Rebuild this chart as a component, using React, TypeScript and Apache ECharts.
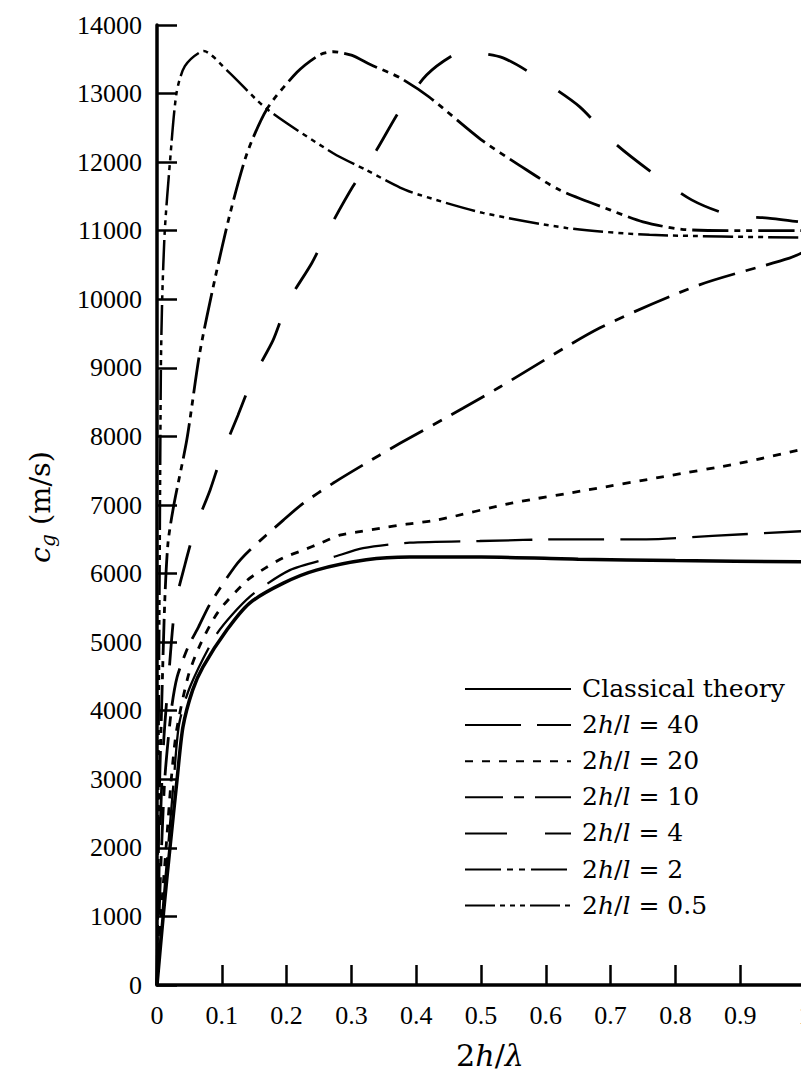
import React, { useEffect, useRef } from "react";
import * as echarts from "echarts";

const FONT = "Times New Roman";
const FONT_G = "DejaVu Serif";

const xTicks = [0, 0.1, 0.2, 0.3, 0.4, 0.5, 0.6, 0.7, 0.8, 0.9, 1];
const yTicks = [0, 1000, 2000, 3000, 4000, 5000, 6000, 7000, 8000, 9000, 10000, 11000, 12000, 13000, 14000];

const seriesNames = [
  "Classical theory",
  "2h/l = 40",
  "2h/l = 20",
  "2h/l = 10",
  "2h/l = 4",
  "2h/l = 2",
  "2h/l = 0.5",
];

const classicalX = [0, 0.01, 0.02, 0.031, 0.04, 0.055, 0.071, 0.108, 0.143, 0.195, 0.246, 0.323, 0.39, 0.5, 0.65, 0.8, 1.0];
const classicalY = [0, 1050, 2000, 3000, 3760, 4300, 4640, 5180, 5570, 5860, 6050, 6200, 6240, 6240, 6210, 6190, 6170];

const h40X = [0, 0.008, 0.017, 0.026, 0.034, 0.051, 0.093, 0.143, 0.205, 0.272, 0.318, 0.39, 0.498, 0.632, 0.755, 0.857, 1.0];
const h40Y = [0, 1000, 2000, 3000, 3800, 4350, 5130, 5660, 6050, 6240, 6370, 6450, 6475, 6500, 6500, 6550, 6620];

const h20X = [0, 0.006, 0.014, 0.022, 0.03, 0.048, 0.066, 0.095, 0.139, 0.167, 0.195, 0.225, 0.254, 0.282, 0.313, 0.344, 0.385, 0.432, 0.549, 0.665, 0.78, 0.899, 1.0];
const h20Y = [0, 1000, 2000, 3000, 3700, 4500, 4950, 5450, 5900, 6080, 6230, 6340, 6450, 6560, 6610, 6660, 6720, 6780, 7030, 7220, 7410, 7610, 7820];

const h10X = [0, 0.005, 0.012, 0.022, 0.031, 0.048, 0.064, 0.082, 0.12, 0.143, 0.195, 0.225, 0.272, 0.344, 0.375, 0.472, 0.529, 0.683, 0.837, 0.976, 1.0];
const h10Y = [0, 1500, 3000, 4000, 4490, 4930, 5220, 5560, 6100, 6340, 6780, 7020, 7320, 7730, 7900, 8410, 8720, 9580, 10210, 10600, 10700];

const h4X = [0, 0.004, 0.01, 0.018, 0.028, 0.043, 0.059, 0.082, 0.1, 0.125, 0.148, 0.179, 0.202, 0.239, 0.267, 0.302, 0.339, 0.375, 0.416, 0.457, 0.478, 0.534, 0.593, 0.652, 0.706, 0.765, 0.825, 0.884, 0.943, 1.0];
const h4Y = [0, 2000, 3500, 4500, 5540, 6125, 6665, 7220, 7730, 8310, 8850, 9400, 9960, 10530, 11055, 11640, 12180, 12760, 13270, 13560, 13600, 13520, 13200, 12810, 12280, 11840, 11450, 11230, 11185, 11120];

const h2X = [0, 0.003, 0.007, 0.012, 0.017, 0.026, 0.046, 0.066, 0.089, 0.113, 0.139, 0.17, 0.216, 0.25, 0.272, 0.3, 0.33, 0.375, 0.42, 0.5, 0.56, 0.62, 0.7, 0.75, 0.81, 0.9, 1.0];
const h2Y = [0, 2500, 4000, 5600, 6450, 7000, 7950, 9220, 10280, 11260, 12130, 12780, 13310, 13560, 13610, 13560, 13420, 13230, 12950, 12330, 11950, 11600, 11300, 11130, 11020, 11000, 11000];

const h05X = [0, 0.002, 0.004, 0.006, 0.008, 0.012, 0.02, 0.03, 0.043, 0.072, 0.11, 0.169, 0.272, 0.323, 0.375, 0.406, 0.503, 0.632, 0.76, 1.0];
const h05Y = [0, 3000, 6000, 9000, 10000, 11000, 12000, 13000, 13400, 13620, 13320, 12780, 12130, 11885, 11630, 11520, 11260, 11040, 10940, 10900];

const seriesXs = [classicalX, h40X, h20X, h10X, h4X, h2X, h05X];
const seriesYs = [classicalY, h40Y, h20Y, h10Y, h4Y, h2Y, h05Y];

const dashes: (string | number[])[] = [
  "solid",
  [56, 16],
  [8, 9],
  [38, 11, 10, 11],
  [42, 38],
  [36, 6, 6, 6, 6, 6],
  [30, 5, 5, 5, 5, 5, 5, 5],
];
const widths = [3.5, 2.3, 2.8, 2.8, 2.8, 2.8, 2.5];

type Piece = { t: string; it?: boolean; r?: number; dy?: number };

let measureCtx: CanvasRenderingContext2D | null = null;
function measure(text: string, size: number, italic: boolean): number {
  if (!measureCtx) measureCtx = document.createElement("canvas").getContext("2d");
  if (!measureCtx) return text.length * size * 0.6;
  measureCtx.font = `${italic ? "italic " : ""}${size}px ${FONT_G}`;
  return measureCtx.measureText(text).width;
}

function piecesWidth(pieces: Piece[], size: number): number {
  return pieces.reduce((a, p) => a + measure(p.t, size * (p.r ?? 1), !!p.it), 0);
}

function fitSize(pieces: Piece[], targetWidth: number, maxSize: number): number {
  const w = piecesWidth(pieces, 20);
  if (!(w > 0)) return maxSize;
  return Math.min(maxSize, (20 * targetWidth) / w);
}

function mixedText(pieces: Piece[], size: number, x: number, y: number, align: "left" | "center", rotation: number) {
  const ws = pieces.map((p) => measure(p.t, size * (p.r ?? 1), !!p.it));
  const total = ws.reduce((a, b) => a + b, 0);
  let cx = align === "center" ? -total / 2 : 0;
  const children = pieces.map((p, k) => {
    const style: any = {
      text: p.t,
      fontFamily: FONT_G,
      fontSize: size * (p.r ?? 1),
      fill: "#000",
      align: "left",
      verticalAlign: "middle",
    };
    if (p.it) style.fontStyle = "italic";
    const el = { type: "text", x: cx, y: (p.dy ?? 0) * size, style };
    cx += ws[k];
    return el;
  });
  return { type: "group", x, y, rotation, children };
}

function legendPieces(name: string): Piece[] {
  if (name.startsWith("2h/l")) {
    const v = name.split("=")[1].trim();
    return [{ t: "2" }, { t: "h", it: true }, { t: "/" }, { t: "l", it: true }, { t: " = " + v }];
  }
  return [{ t: name }];
}

export default function App() {
  const ref = useRef<HTMLDivElement>(null);
  useEffect(() => {
    if (!ref.current) return;
    const chart = echarts.init(ref.current, undefined, { renderer: "svg" });
    const series = seriesNames.map((name, i) => ({
      name,
      type: "line",
      data: seriesXs[i].map((x, j) => [x, seriesYs[i][j]]),
      symbol: "none",
      showSymbol: false,
      smooth: 0.25,
      lineStyle: { color: "#000", width: widths[i], type: dashes[i] },
      itemStyle: { color: "#000" },
      z: 2 + i,
    }));

    const firstRow = 688;
    const rowH = 36.2;
    const legendSize = fitSize(legendPieces(seriesNames[0]), 203, 30);
    const legendTexts = seriesNames.map((name, i) =>
      mixedText(legendPieces(name), legendSize, 582, firstRow + i * rowH, "left", 0)
    );
    const xPieces: Piece[] = [{ t: "2" }, { t: "h", it: true }, { t: "/" }, { t: "λ", it: true }];
    const xName = mixedText(xPieces, fitSize(xPieces, 68, 36), 490, 1055, "center", 0);
    const yPieces: Piece[] = [
      { t: "c", it: true },
      { t: "g", it: true, r: 0.7, dy: 0.27 },
      { t: " (m/s)" },
    ];
    const yName = mixedText(yPieces, fitSize(yPieces, 112, 31), 40, 507, "center", Math.PI / 2);

    chart.setOption({
      animation: false,
      backgroundColor: "#fff",
      grid: { left: 157, top: 25, width: 648, height: 960, containLabel: false, outerBoundsMode: "none" },
      legend: {
        orient: "vertical",
        left: 459,
        top: firstRow - 19,
        itemWidth: 106,
        itemHeight: 30,
        itemGap: 9.1,
        selectedMode: false,
        data: seriesNames,
        itemStyle: { opacity: 0 },
        formatter: () => "",
        textStyle: { fontFamily: FONT, fontSize: 1, color: "#000" },
      },
      graphic: [...legendTexts, xName, yName],
      xAxis: {
        type: "value",
        min: xTicks[0],
        max: xTicks[xTicks.length - 1],
        interval: 0.1,
        axisLine: { show: true, lineStyle: { color: "#000", width: 3.5 } },
        axisTick: { show: true, inside: true, length: 20, lineStyle: { color: "#000", width: 2.5 } },
        axisLabel: {
          fontFamily: FONT,
          fontSize: 26,
          color: "#000",
          margin: 17,
          formatter: (v: number) => (Math.abs(v) < 1e-9 ? "0" : String(Math.round(v * 10) / 10)),
        },
        splitLine: { show: false },
      },
      yAxis: {
        type: "value",
        min: yTicks[0],
        max: yTicks[yTicks.length - 1],
        interval: 1000,
        axisLine: { show: true, lineStyle: { color: "#000", width: 3.5 } },
        axisTick: { show: true, inside: true, length: 20, lineStyle: { color: "#000", width: 2.5 } },
        axisLabel: {
          fontFamily: FONT,
          fontSize: 26,
          color: "#000",
          margin: 15,
          formatter: (v: number) => String(v),
        },
        splitLine: { show: false },
      },
      series,
    });
    return () => chart.dispose();
  }, []);
  return (
    <div
      ref={ref}
      style={{ position: "absolute", left: 0, top: 0, width: 801, height: 1072, background: "#fff" }}
    />
  );
}
